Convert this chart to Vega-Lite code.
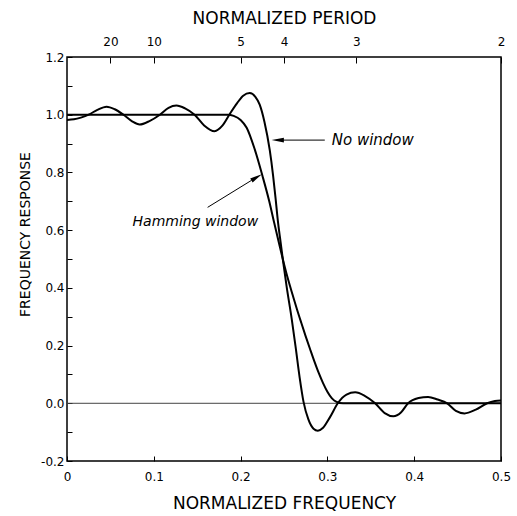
{
  "$schema": "https://vega.github.io/schema/vega-lite/v6.json",
  "autosize": {"type": "none"},
  "padding": {"left": 67, "top": 57, "right": 16, "bottom": 55},
  "width": 434,
  "height": 404,
  "background": "white",
  "config": {
    "font": "DejaVu Sans",
    "view": {"stroke": "black", "strokeWidth": 1.5},
    "axis": {
      "grid": false,
      "domain": false,
      "labelColor": "black",
      "tickColor": "black",
      "titleColor": "black",
      "labelFontSize": 12,
      "titleFontWeight": "normal",
      "labelFont": "DejaVu Sans",
      "titleFont": "DejaVu Sans"
    }
  },
  "datasets": {
    "nowin": [
      {"f": 0, "v": 0.982}, {"f": 0.008, "v": 0.984}, {"f": 0.016, "v": 0.99}, {"f": 0.025, "v": 1.0},
      {"f": 0.035, "v": 1.017}, {"f": 0.0456, "v": 1.028}, {"f": 0.055, "v": 1.019}, {"f": 0.065, "v": 1.0},
      {"f": 0.075, "v": 0.977}, {"f": 0.0836, "v": 0.966}, {"f": 0.095, "v": 0.978}, {"f": 0.107, "v": 1.0},
      {"f": 0.117, "v": 1.024}, {"f": 0.126, "v": 1.032}, {"f": 0.136, "v": 1.022}, {"f": 0.147, "v": 1.0},
      {"f": 0.158, "v": 0.963}, {"f": 0.17, "v": 0.943}, {"f": 0.179, "v": 0.962}, {"f": 0.187, "v": 1.0},
      {"f": 0.196, "v": 1.04}, {"f": 0.203, "v": 1.066}, {"f": 0.2105, "v": 1.075}, {"f": 0.217, "v": 1.062},
      {"f": 0.222, "v": 1.035}, {"f": 0.2275, "v": 0.975}, {"f": 0.2336, "v": 0.877}, {"f": 0.2374, "v": 0.79},
      {"f": 0.2405, "v": 0.704}, {"f": 0.243, "v": 0.63}, {"f": 0.246, "v": 0.56}, {"f": 0.2486, "v": 0.5},
      {"f": 0.253, "v": 0.405}, {"f": 0.259, "v": 0.29}, {"f": 0.2636, "v": 0.19}, {"f": 0.268, "v": 0.09},
      {"f": 0.2725, "v": 0.005}, {"f": 0.278, "v": -0.055}, {"f": 0.284, "v": -0.088}, {"f": 0.289, "v": -0.095},
      {"f": 0.295, "v": -0.085}, {"f": 0.303, "v": -0.048}, {"f": 0.312, "v": 0.0}, {"f": 0.322, "v": 0.03},
      {"f": 0.332, "v": 0.038}, {"f": 0.343, "v": 0.026}, {"f": 0.355, "v": 0.0}, {"f": 0.366, "v": -0.034},
      {"f": 0.376, "v": -0.045}, {"f": 0.385, "v": -0.031}, {"f": 0.393, "v": 0.0}, {"f": 0.405, "v": 0.018},
      {"f": 0.416, "v": 0.022}, {"f": 0.427, "v": 0.013}, {"f": 0.438, "v": 0.0}, {"f": 0.448, "v": -0.026},
      {"f": 0.458, "v": -0.035}, {"f": 0.471, "v": -0.022}, {"f": 0.484, "v": 0.0}, {"f": 0.493, "v": 0.008},
      {"f": 0.5, "v": 0.01}
    ],
    "hamming": [
      {"f": 0, "v": 1.0}, {"f": 0.05, "v": 1.0}, {"f": 0.1, "v": 1.0}, {"f": 0.15, "v": 1.0},
      {"f": 0.185, "v": 1.0}, {"f": 0.192, "v": 0.996}, {"f": 0.2, "v": 0.982}, {"f": 0.207, "v": 0.955},
      {"f": 0.2163, "v": 0.88}, {"f": 0.225, "v": 0.79}, {"f": 0.233, "v": 0.7}, {"f": 0.2385, "v": 0.628},
      {"f": 0.244, "v": 0.558}, {"f": 0.25, "v": 0.483}, {"f": 0.255, "v": 0.426}, {"f": 0.26, "v": 0.375},
      {"f": 0.265, "v": 0.325}, {"f": 0.27, "v": 0.278}, {"f": 0.275, "v": 0.232}, {"f": 0.28, "v": 0.188},
      {"f": 0.285, "v": 0.145}, {"f": 0.29, "v": 0.105}, {"f": 0.295, "v": 0.07}, {"f": 0.3, "v": 0.04},
      {"f": 0.305, "v": 0.018}, {"f": 0.31, "v": 0.006}, {"f": 0.318, "v": 0.0},
      {"f": 0.4, "v": 0.0}, {"f": 0.5, "v": 0.0}
    ]
  },
  "resolve": {"axis": {"x": "independent", "y": "independent"}},
  "layer": [
    {
      "data": {"values": [{"v": 0}]},
      "mark": {"type": "rule", "stroke": "#444", "strokeWidth": 1},
      "encoding": {
        "y": {"field": "v", "type": "quantitative", "scale": {"domain": [-0.2, 1.2], "nice": false}, "axis": null}
      }
    },
    {
      "data": {"name": "nowin"},
      "mark": {"type": "line", "interpolate": "monotone", "stroke": "black", "strokeWidth": 2},
      "encoding": {
        "x": {
          "field": "f", "type": "quantitative",
          "scale": {"domain": [0, 0.5], "nice": false, "zero": false},
          "axis": {
            "orient": "bottom",
            "values": [0, 0.1, 0.2, 0.3, 0.4, 0.5],
            "labelExpr": "datum.value == 0 ? '0' : format(datum.value, '.1f')",
            "tickSize": -5,
            "labelPadding": 15,
            "labelFlush": false,
            "title": "NORMALIZED FREQUENCY",
            "titleFontSize": 17,
            "titleY": 42,
            "titleBaseline": "middle"
          }
        },
        "y": {
          "field": "v", "type": "quantitative",
          "scale": {"domain": [-0.2, 1.2], "nice": false},
          "axis": {
            "orient": "left",
            "values": [-0.2, -0.1, 0, 0.1, 0.2, 0.3, 0.4, 0.5, 0.6, 0.7, 0.8, 0.9, 1.0, 1.1, 1.2],
            "labelExpr": "round(datum.value * 10) % 2 == 0 ? replace(format(datum.value, '.1f'), '\u2212', '-') : ''",
            "tickSize": -5,
            "labelPadding": 8,
            "labelFlush": false,
            "title": "FREQUENCY RESPONSE",
            "titleFontSize": 14,
            "titleAngle": -90,
            "titleX": -42,
            "titleY": 177,
            "titleBaseline": "middle",
            "titleAlign": "center"
          }
        }
      }
    },
    {
      "data": {"name": "hamming"},
      "mark": {"type": "line", "interpolate": "monotone", "stroke": "black", "strokeWidth": 2},
      "encoding": {
        "x": {
          "field": "f", "type": "quantitative",
          "scale": {"domain": [0, 0.5], "nice": false, "zero": false},
          "axis": {
            "orient": "top",
            "values": [0.05, 0.1, 0.2, 0.25, 0.333333, 0.5],
            "labelExpr": "format(round(1 / datum.value), 'd')",
            "tickSize": -6,
            "labelPadding": 15,
            "labelFlush": false,
            "title": "NORMALIZED PERIOD",
            "titleFontSize": 17,
            "titleY": -39,
            "titleBaseline": "middle"
          }
        },
        "y": {"field": "v", "type": "quantitative", "scale": {"domain": [-0.2, 1.2], "nice": false}, "axis": null}
      }
    },
    {
      "data": {"values": [
        {"x1": 0.297, "x2": 0.2475, "y1": 0.912, "y2": 0.912},
        {"x1": 0.162, "x2": 0.2128, "y1": 0.679, "y2": 0.773}
      ]},
      "mark": {"type": "rule", "stroke": "black", "strokeWidth": 1},
      "encoding": {
        "x": {"field": "x1", "type": "quantitative", "axis": null},
        "x2": {"field": "x2"},
        "y": {"field": "y1", "type": "quantitative", "axis": null},
        "y2": {"field": "y2"}
      }
    },
    {
      "data": {"values": [{"x": 0.2428, "y": 0.912}]},
      "mark": {"type": "point", "shape": "M1,0L-1,-0.38L-1,0.38Z", "filled": true, "color": "black", "opacity": 1, "size": 150, "angle": 180},
      "encoding": {
        "x": {"field": "x", "type": "quantitative", "axis": null},
        "y": {"field": "y", "type": "quantitative", "axis": null}
      }
    },
    {
      "data": {"values": [{"x": 0.2185, "y": 0.783}]},
      "mark": {"type": "point", "shape": "M1,0L-1,-0.38L-1,0.38Z", "filled": true, "color": "black", "opacity": 1, "size": 150, "angle": -31.5},
      "encoding": {
        "x": {"field": "x", "type": "quantitative", "axis": null},
        "y": {"field": "y", "type": "quantitative", "axis": null}
      }
    },
    {
      "data": {"values": [{"x": 0.305, "y": 0.912, "label": "No window"}]},
      "mark": {"type": "text", "align": "left", "baseline": "middle", "fontStyle": "italic", "fontSize": 15, "font": "DejaVu Sans", "color": "black"},
      "encoding": {
        "x": {"field": "x", "type": "quantitative", "axis": null},
        "y": {"field": "y", "type": "quantitative", "axis": null},
        "text": {"field": "label"}
      }
    },
    {
      "data": {"values": [{"x": 0.0755, "y": 0.627, "label": "Hamming window"}]},
      "mark": {"type": "text", "align": "left", "baseline": "middle", "fontStyle": "italic", "fontSize": 14, "font": "DejaVu Sans", "color": "black"},
      "encoding": {
        "x": {"field": "x", "type": "quantitative", "axis": null},
        "y": {"field": "y", "type": "quantitative", "axis": null},
        "text": {"field": "label"}
      }
    }
  ]
}
